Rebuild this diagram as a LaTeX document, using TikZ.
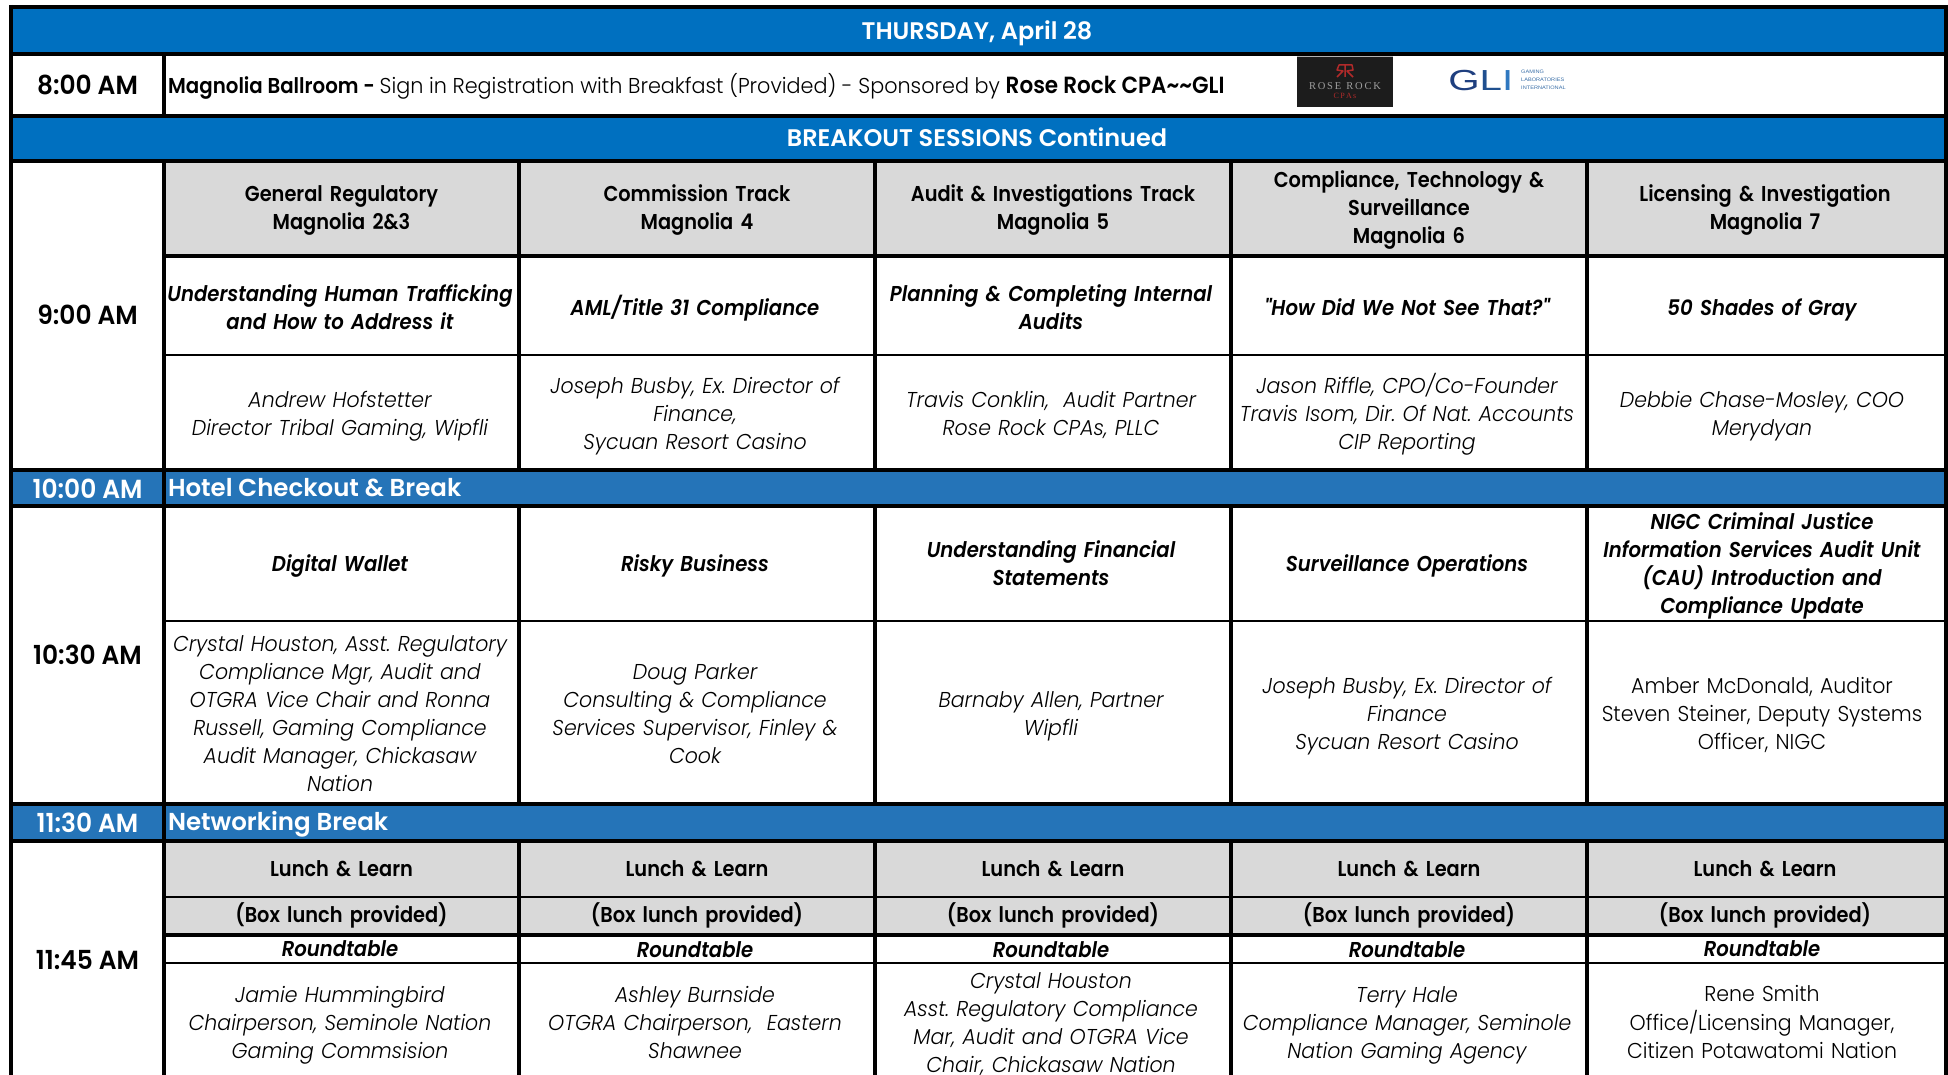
\documentclass[tikz,border=0pt]{standalone}
\usepackage{fontspec}
\usepackage{graphicx}
\setmainfont{Poppins}
\frenchspacing
\newfontfamily\fLight{Poppins Light}[FakeStretch=0.953]
\newfontfamily\fLightIt{Poppins Light Italic}[FakeStretch=0.953]
\newfontfamily\fRegLight{Poppins Light}[FakeStretch=0.965]
\newfontfamily\fBold{Poppins SemiBold}[FakeStretch=0.90]
\newfontfamily\fRegBold{Poppins SemiBold}[FakeStretch=0.92]
\newfontfamily\fBoldIt{Poppins SemiBold Italic}[FakeStretch=0.915]
\newfontfamily\fBar{Poppins SemiBold}
\newfontfamily\fTime{Poppins SemiBold}[FakeStretch=0.95]
\newfontfamily\fSerif{Liberation Serif}
\newfontfamily\fSans{Liberation Sans}
\definecolor{barA}{HTML}{0070C0}
\definecolor{barB}{HTML}{2574B8}
\definecolor{hdr}{HTML}{D9D9D9}
\definecolor{logoBg}{HTML}{1C1C1C}
\definecolor{logoRed}{HTML}{B02A2A}
\definecolor{gliA}{HTML}{1F3F7F}
\definecolor{gliB}{HTML}{1F4F8F}
\definecolor{gliC}{HTML}{2F78C0}
\definecolor{gliT}{HTML}{3A6FA8}
\newcommand{\bsz}{\fontsize{21.5}{28}\selectfont}
\tikzset{
  base/.style={inner sep=0pt,outer sep=0pt,align=center,text width=354pt,text=black,
    execute at begin node=\strut,execute at end node=\strut},
  head/.style={base,font=\fBold\bsz},
  title/.style={base,font=\fBoldIt\bsz},
  who/.style={base,font=\fLightIt\bsz},
  whoup/.style={base,font=\fLight\bsz},
  timecell/.style={inner sep=0pt,outer sep=0pt,anchor=base,font=\fTime\fontsize{26.2}{28}\selectfont},
  bartime/.style={timecell,text=white},
  bartext/.style={inner sep=0pt,outer sep=0pt,anchor=base west,text=white,font=\fBar\fontsize{24.5}{28}\selectfont},
  bartitle/.style={inner sep=0pt,outer sep=0pt,anchor=base,text=white,font=\fBar\fontsize{24}{28}\selectfont},
  thick rule/.style={line width=4.4pt,black},
  mid rule/.style={line width=3.6pt,black},
  thin rule/.style={line width=2pt,black},
}
\begin{document}
\begin{tikzpicture}[x=1pt,y=-1pt]
\useasboundingbox (0,0) rectangle (1948,1075);
\fill[white] (0,0) rectangle (1948,1075);
% bands and header fills
\fill[barA] (11,7) rectangle (1946,54);
\fill[barA] (11,116) rectangle (1946,161);
\fill[barB] (11,470) rectangle (1946,506);
\fill[barB] (11,804) rectangle (1946,841);
\fill[hdr] (164,161) rectangle (1946,256);
\fill[hdr] (164,841) rectangle (1946,935);
% horizontal rules
\foreach \yy in {7,54,116,161,470,506,804,841}
  \draw[thick rule] (9,\yy) -- (1948,\yy);
\draw[thick rule] (164,256) -- (1946,256);
\draw[thick rule] (164,935) -- (1946,935);
\foreach \yy in {355,621,897,963}
  \draw[thin rule] (164,\yy) -- (1946,\yy);
% vertical rules
\draw[thick rule] (11,5) -- (11,1075);
\draw[thick rule] (1946,5) -- (1946,1075);
\draw[mid rule] (164,54) -- (164,116);
\draw[mid rule] (164,161) -- (164,1075);
\foreach \xx in {519,875,1231,1587}{
  \draw[mid rule] (\xx,161) -- (\xx,470);
  \draw[mid rule] (\xx,506) -- (\xx,804);
  \draw[mid rule] (\xx,841) -- (\xx,1075);
}
% bands text
\node[bartitle] (thu) at (977,40) {THURSDAY, April 28};
\node[bartitle] (brk) at (977,147) {BREAKOUT SESSIONS Continued};
\node[timecell] (t800) at (87.5,95) {8:00 AM};
\node[inner sep=0pt,anchor=base west,font=\fontsize{21.5}{28}\selectfont] (reg) at (168,94)
  {{\fRegBold Magnolia Ballroom - }{\fRegLight\fontsize{21.5}{28}\selectfont Sign in Registration with Breakfast (Provided) - Sponsored by }{\fRegBold\fontsize{23.4}{28}\selectfont Rose Rock CPA\textasciitilde\textasciitilde GLI}};
\node[timecell] (t900) at (87.5,324) {9:00 AM};
\node[bartime] (t1000) at (87.5,498) {10:00 AM};
\node[bartext] (hotel) at (168,496.5) {Hotel Checkout \& Break};
\node[timecell] (t1030) at (87.5,664) {10:30 AM};
\node[bartime] (t1130) at (87.5,832.7) {11:30 AM};
\node[bartext] (net) at (168,830) {Networking Break};
\node[timecell] (t1145) at (87.5,969) {11:45 AM};
% row 9:00
\node[head] (h1) at (341.5,210) {General Regulatory\\Magnolia 2\&3};
\node[head] (h2) at (697,210) {Commission Track\\Magnolia 4};
\node[head] (h3) at (1053,210) {Audit \& Investigations Track\\Magnolia 5};
\node[head] (h4) at (1409,210) {Compliance, Technology \&\\Surveillance\\Magnolia 6};
\node[head] (h5) at (1765,210) {Licensing \& Investigation\\Magnolia 7};
\node[title] (a1) at (340,310) {Understanding Human Trafficking\\and How to Address it};
\node[title] (a2) at (695,310) {AML/Title 31 Compliance};
\node[title] (a3) at (1051,310) {Planning \& Completing Internal\\Audits};
\node[title] (a4) at (1407,310) {"How Did We Not See That?"};
\node[title] (a5) at (1762,310) {50 Shades of Gray};
\node[who] (b1) at (340,415.5) {Andrew Hofstetter\\Director Tribal Gaming, Wipfli};
\node[who] (b2) at (695,415.5) {Joseph Busby, Ex. Director of\\Finance,\\Sycuan Resort Casino};
\node[who] (b3) at (1051,415.5) {Travis Conklin,\ \ Audit Partner\\Rose Rock CPAs, PLLC};
\node[who] (b4) at (1407,415.5) {Jason Riffle, CPO/Co-Founder\\Travis Isom, Dir. Of Nat. Accounts\\CIP Reporting};
\node[who] (b5) at (1762,415.5) {Debbie Chase-Mosley, COO\\Merydyan};
% row 10:30
\node[title] (c1) at (340,566) {Digital Wallet};
\node[title] (c2) at (695,566) {Risky Business};
\node[title] (c3) at (1051,566) {Understanding Financial\\Statements};
\node[title] (c4) at (1407,566) {Surveillance Operations};
\node[title] (c5) at (1762,566) {NIGC Criminal Justice\\Information Services Audit Unit\\(CAU) Introduction and\\Compliance Update};
\node[who] (d1) at (340,716) {Crystal Houston, Asst. Regulatory\\Compliance Mgr, Audit and\\OTGRA Vice Chair and Ronna\\Russell, Gaming Compliance\\Audit Manager, Chickasaw\\Nation};
\node[who] (d2) at (695,716) {Doug Parker\\Consulting \& Compliance\\Services Supervisor, Finley \&\\Cook};
\node[who] (d3) at (1051,716) {Barnaby Allen, Partner\\Wipfli};
\node[who] (d4) at (1407,716) {Joseph Busby, Ex. Director of\\Finance\\Sycuan Resort Casino};
\node[whoup] (d5) at (1762,716) {Amber McDonald, Auditor\\Steven Steiner, Deputy Systems\\Officer, NIGC};
% row 11:45
\foreach \cx/\nm in {341.5/1,697/2,1053/3,1409/4,1765/5}{
  \node[head] (l\nm) at (\cx,871) {Lunch \& Learn};
  \node[head] (p\nm) at (\cx,917) {(Box lunch provided)};
}
\foreach \cx/\ry/\nm in {340/951/1,695/951.5/2,1051/951.5/3,1407/951.5/4,1762/951/5}
  \node[title] (r\nm) at (\cx,\ry) {Roundtable};
\node[who] (e1) at (340,1024.4) {Jamie Hummingbird\\Chairperson, Seminole Nation\\Gaming Commsision};
\node[who] (e2) at (695,1024.4) {Ashley Burnside\\OTGRA Chairperson,\ \ Eastern\\Shawnee};
\node[who] (e3) at (1051,1025) {Crystal Houston\\Asst. Regulatory Compliance\\Mar, Audit and OTGRA Vice\\Chair, Chickasaw Nation};
\node[who] (e4) at (1407,1024.4) {Terry Hale\\Compliance Manager, Seminole\\Nation Gaming Agency};
\node[whoup] (e5) at (1762,1024.4) {Rene Smith\\Office/Licensing Manager,\\Citizen Potawatomi Nation};
% logos
\fill[logoBg] (1297,57) rectangle (1393,107);
\draw[gray!60,line width=0.8pt] (1297,56) -- (1393,56);
\draw[logoRed,line width=1.5pt,line join=round]
  (1345,65) -- (1345,77)
  (1345,65) -- (1352,65) -- (1353,70) -- (1347,71) -- (1353,77)
  (1345,65) -- (1339,65) -- (1337,70) -- (1343,71) -- (1337,77);
\node[inner sep=0pt,text=gray!75,font=\fSerif\fontsize{10.5}{12}\selectfont] (rr) at (1345,86) {R\,O\,S\,E\ \ R\,O\,C\,K};
\node[inner sep=0pt,text=logoRed,font=\fSerif\fontsize{8}{10}\selectfont] (cpa) at (1345,96) {C\,P\,A\,s};
\node[inner sep=0pt,anchor=west,font=\fSans\fontsize{29}{30}\selectfont,xscale=1.39,transform shape] (gli) at (1448,80.5) {\textcolor{gliA}{G}\textcolor{gliB}{L}\textcolor{gliC}{I}};
\node[inner sep=0pt,anchor=west,align=left,text=gliT,font=\fSans\fontsize{5}{8}\selectfont,xscale=1.12,transform shape] (glit) at (1521,80) {GAMING\\LABORATORIES\\INTERNATIONAL};
\end{tikzpicture}
\end{document}
